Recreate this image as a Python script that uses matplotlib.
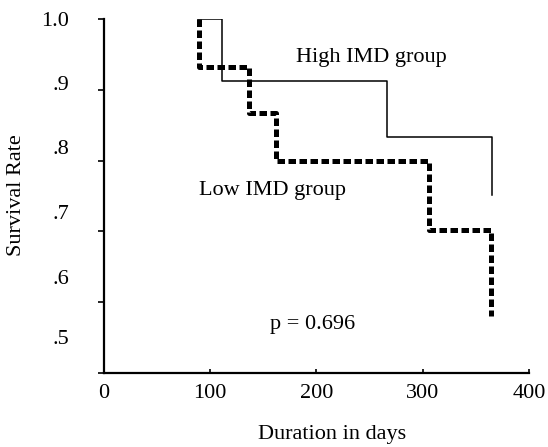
import matplotlib.pyplot as plt
from matplotlib.ticker import FixedLocator

# survival curves (days, rate)
high_days = [88, 111, 111, 266, 266, 365, 365]
high_rate = [1.0, 1.0, 0.912, 0.912, 0.833, 0.833, 0.752]

low_days = [89, 89, 136, 136, 162, 162, 306, 306, 364, 364]
low_rate = [1.0, 0.932, 0.932, 0.867, 0.867, 0.80, 0.80, 0.702, 0.702, 0.58]

x_ticks = [0, 100, 200, 300, 400]
y_ticks = [0.5, 0.6, 0.7, 0.8, 0.9, 1.0]
y_labels = [".5", ".6", ".7", ".8", ".9", "1.0"]
# the scanned labels drift away from their ticks
y_label_pos = [0.551, 0.636, 0.727, 0.819, 0.91, 0.9999]

plt.rcParams['font.family'] = ['Liberation Serif', 'DejaVu Serif']
fs = 16

fig = plt.figure(figsize=(5.48, 4.47), dpi=100)
ax = fig.add_axes([0.1898, 0.1655, 0.7755, 0.792])

ax.plot(high_days, high_rate, color='black', lw=1.1)
ax.plot(low_days, low_rate, color='black', lw=3.6, dashes=(1.5, 0.7),
        solid_capstyle='butt', dash_capstyle='butt')

ax.set_xlim(0, 400)
ax.set_ylim(0.5, 1.0)
ax.spines['top'].set_visible(False)
ax.spines['right'].set_visible(False)
ax.spines['left'].set_linewidth(1.6)
ax.spines['bottom'].set_linewidth(1.6)

ax.set_xticks(x_ticks)
ax.set_xticklabels([str(v) for v in x_ticks], fontsize=fs)
ax.tick_params(axis='x', direction='in', length=3, width=1.2, pad=8)

ax.set_yticks(y_ticks)
ax.set_yticklabels([])
ax.tick_params(axis='y', which='major', direction='out', length=4, width=1.2)
ax.yaxis.remove_overlapping_locs = False
ax.yaxis.set_minor_locator(FixedLocator(y_label_pos))
ax.set_yticklabels(y_labels, minor=True, fontsize=fs)
ax.tick_params(axis='y', which='minor', length=0, pad=25)

ax.text(252, 0.945, "High IMD group", fontsize=fs, ha='center', va='center')
ax.text(159, 0.758, "Low IMD group", fontsize=fs, ha='center', va='center')
ax.text(196, 0.569, "p = 0.696", fontsize=fs, ha='center', va='center')

fig.text(332 / 548, 1 - 435 / 447, "Duration in days", fontsize=fs,
         ha='center', va='center')
fig.text(17 / 548, 1 - 195 / 447, "Survival Rate", fontsize=fs,
         ha='center', va='center', rotation=90)

fig.savefig("out.png", dpi=100)
